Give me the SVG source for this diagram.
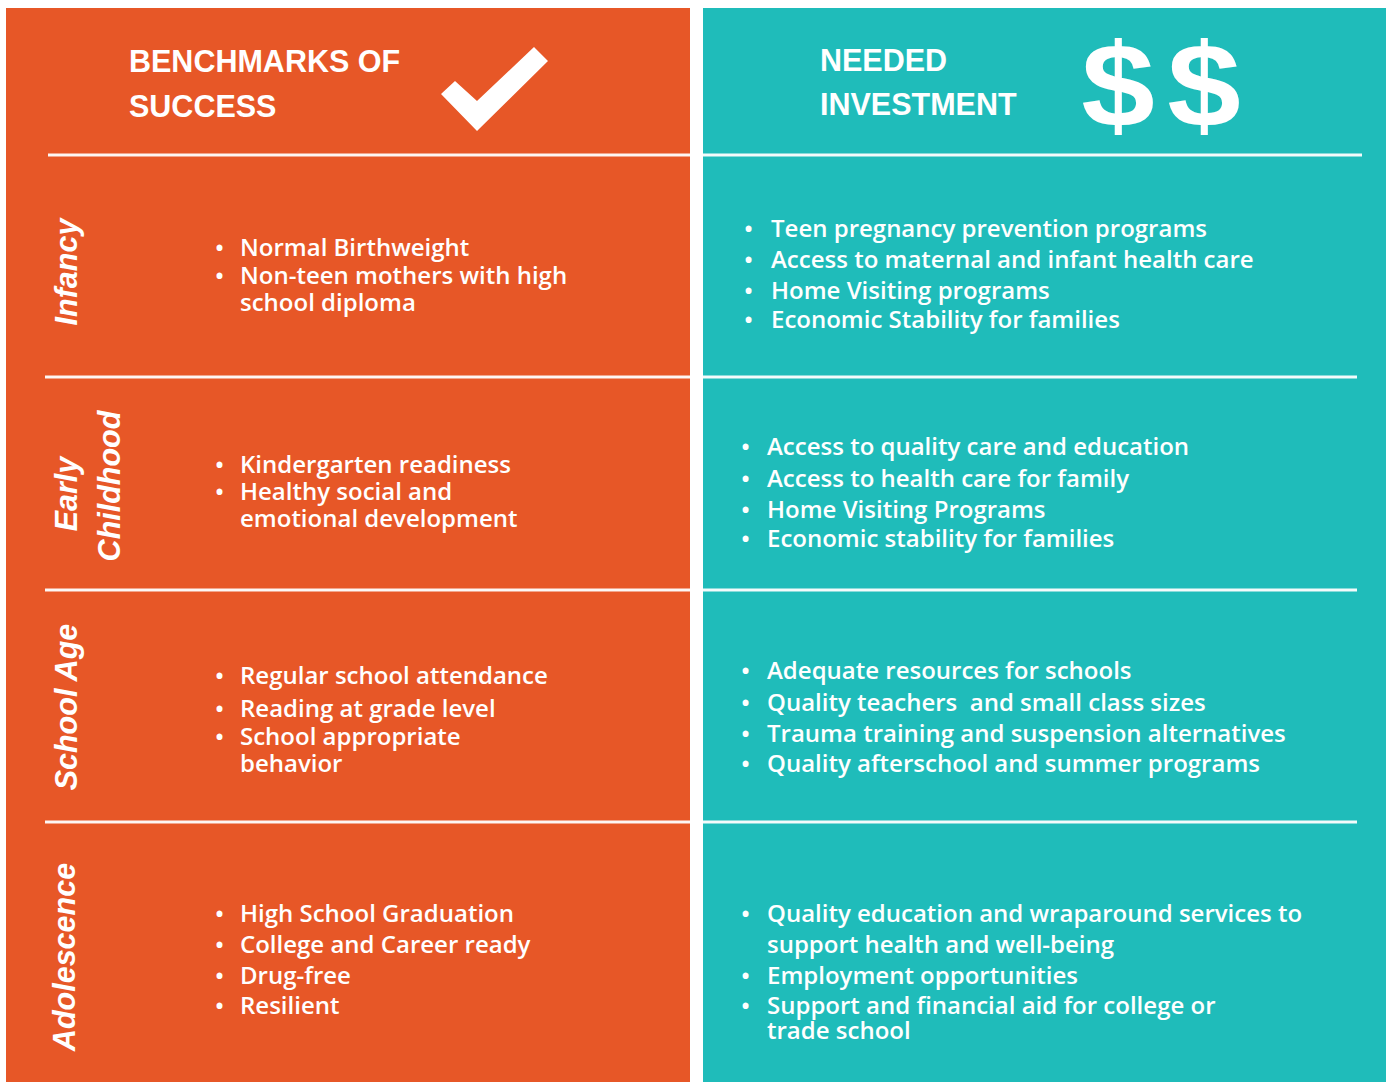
<svg xmlns="http://www.w3.org/2000/svg" width="1388" height="1082" viewBox="0 0 1388 1082">
<style>
.orange{fill:#E75727}
.teal{fill:#1FBCBA}
.div{stroke:#FFFFFF;stroke-width:3;opacity:0.95}
.hd{font-family:"Liberation Sans",Arial,sans-serif;font-weight:bold;font-size:30.5px;fill:#FFFFFF}
.lab{font-family:"Liberation Sans",Arial,sans-serif;font-weight:bold;font-style:italic;font-size:30.5px;fill:#FFFFFF;text-anchor:middle}
.b{font-family:"Open Sans","Noto Sans",sans-serif;font-size:24px;font-weight:600;fill:#FFFFFF}
.dol{font-family:"Liberation Sans",Arial,sans-serif;font-weight:bold;font-size:118px;fill:#FFFFFF;text-anchor:middle}
</style>
<rect width="1388" height="1082" fill="#FFFFFF"/>
<g id="panel-benchmarks">
<rect class="orange" x="6" y="8" width="684" height="1074"/>
</g>
<g id="panel-investment">
<rect class="teal" x="703" y="8" width="683" height="1074"/>
</g>
<g id="dividers">
<line class="div" x1="48" y1="155" x2="690" y2="155"/>
<line class="div" x1="703" y1="155" x2="1362" y2="155"/>
<line class="div" x1="45" y1="377" x2="690" y2="377"/>
<line class="div" x1="703" y1="377" x2="1357" y2="377"/>
<line class="div" x1="45" y1="590" x2="690" y2="590"/>
<line class="div" x1="703" y1="590" x2="1357" y2="590"/>
<line class="div" x1="45" y1="822" x2="690" y2="822"/>
<line class="div" x1="703" y1="822" x2="1357" y2="822"/>
</g>
<g id="header-benchmarks">
<text class="hd" x="129" y="72">BENCHMARKS OF</text>
<text class="hd" x="129" y="116.5">SUCCESS</text>
<polygon fill="#FFFFFF" points="441,94 455,81 477,101 534,47 548,61 477,131"/>
</g>
<g id="header-investment">
<text class="hd" x="820" y="71">NEEDED</text>
<text class="hd" x="820" y="115">INVESTMENT</text>
<text class="dol" transform="translate(1118,126) scale(1.12,1)">$</text>
<text class="dol" transform="translate(1204,126) scale(1.12,1)">$</text>
</g>
<g id="row-infancy">
<text class="lab" transform="translate(77,272) rotate(-90)">Infancy</text>
<g class="b">
<text x="215" y="256">•</text><text x="240" y="256">Normal Birthweight</text>
<text x="215" y="284">•</text><text x="240" y="284">Non-teen mothers with high</text>
<text x="240" y="311">school diploma</text>
</g>
<g class="b">
<text x="744" y="237">•</text><text x="771" y="237">Teen pregnancy prevention programs</text>
<text x="744" y="268">•</text><text x="771" y="268">Access to maternal and infant health care</text>
<text x="744" y="299">•</text><text x="771" y="299">Home Visiting programs</text>
<text x="744" y="328">•</text><text x="771" y="328">Economic Stability for families</text>
</g>
</g>
<g id="row-early-childhood">
<text class="lab" transform="translate(77,494) rotate(-90)">Early</text>
<text class="lab" transform="translate(120,486) rotate(-90)">Childhood</text>
<g class="b">
<text x="215" y="473">•</text><text x="240" y="473">Kindergarten readiness</text>
<text x="215" y="500">•</text><text x="240" y="500">Healthy social and</text>
<text x="240" y="527">emotional development</text>
</g>
<g class="b">
<text x="741" y="455">•</text><text x="767" y="455">Access to quality care and education</text>
<text x="741" y="487">•</text><text x="767" y="487">Access to health care for family</text>
<text x="741" y="518">•</text><text x="767" y="518">Home Visiting Programs</text>
<text x="741" y="547">•</text><text x="767" y="547">Economic stability for families</text>
</g>
</g>
<g id="row-school-age">
<text class="lab" transform="translate(77,707) rotate(-90)">School Age</text>
<g class="b">
<text x="215" y="684">•</text><text x="240" y="684">Regular school attendance</text>
<text x="215" y="717">•</text><text x="240" y="717">Reading at grade level</text>
<text x="215" y="745">•</text><text x="240" y="745">School appropriate</text>
<text x="240" y="772">behavior</text>
</g>
<g class="b">
<text x="741" y="679">•</text><text x="767" y="679">Adequate resources for schools</text>
<text x="741" y="711">•</text><text x="767" y="711" xml:space="preserve">Quality teachers  and small class sizes</text>
<text x="741" y="742">•</text><text x="767" y="742">Trauma training and suspension alternatives</text>
<text x="741" y="772">•</text><text x="767" y="772">Quality afterschool and summer programs</text>
</g>
</g>
<g id="row-adolescence">
<text class="lab" transform="translate(75,957) rotate(-90)">Adolescence</text>
<g class="b">
<text x="215" y="922">•</text><text x="240" y="922">High School Graduation</text>
<text x="215" y="953">•</text><text x="240" y="953">College and Career ready</text>
<text x="215" y="984">•</text><text x="240" y="984">Drug-free</text>
<text x="215" y="1014">•</text><text x="240" y="1014">Resilient</text>
</g>
<g class="b">
<text x="741" y="922">•</text><text x="767" y="922">Quality education and wraparound services to</text>
<text x="767" y="953">support health and well-being</text>
<text x="741" y="984">•</text><text x="767" y="984">Employment opportunities</text>
<text x="741" y="1014">•</text><text x="767" y="1014">Support and financial aid for college or</text>
<text x="767" y="1039">trade school</text>
</g>
</g>
</svg>
